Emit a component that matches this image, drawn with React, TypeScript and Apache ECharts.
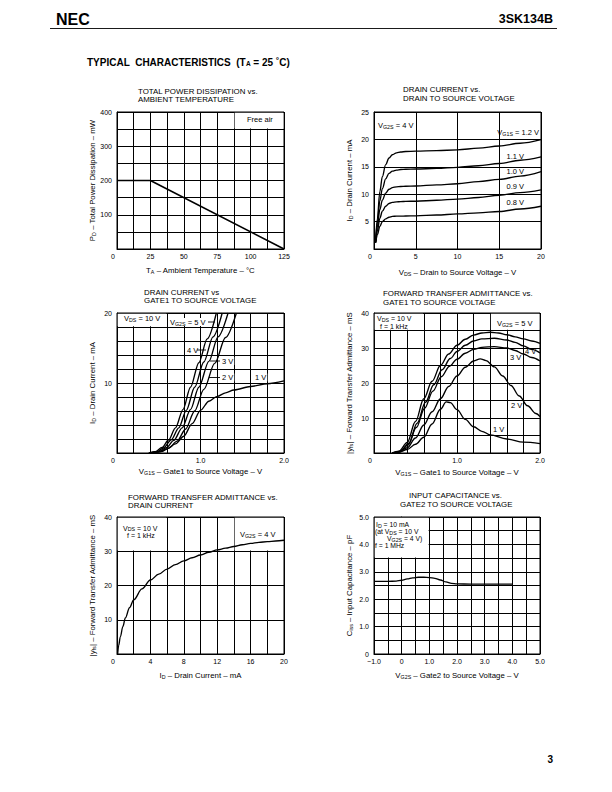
import React, { useEffect, useRef } from 'react';
import * as echarts from 'echarts';

const FONT = '"Liberation Sans", Arial, Helvetica, sans-serif';

// ---------- DATA ----------
// 1. Total power dissipation vs ambient temperature
const pdTemp = [0, 25, 125];
const pdPower = [200, 200, 0];

// 2. Drain current vs drain-to-source voltage (VG2S = 4 V)
const dsVds = [0.2, 0.4, 0.7, 1.0, 1.4, 1.8, 2.2, 2.7, 3.2, 3.8, 5, 7.5, 10, 12.5, 15, 17.5, 20];
const dsId12 = [1.5, 5.5, 10.5, 13.2, 15.4, 16.6, 17.2, 17.55, 17.7, 17.8, 17.85, 17.95, 18.1, 18.4, 18.8, 19.3, 19.95];
const dsId11 = [1.4, 4.8, 8.8, 11.0, 12.8, 13.8, 14.2, 14.4, 14.5, 14.55, 14.6, 14.7, 14.9, 15.2, 15.6, 16.2, 16.8];
const dsId10 = [1.3, 4.0, 7.2, 8.9, 10.2, 10.9, 11.2, 11.35, 11.4, 11.45, 11.5, 11.7, 11.9, 12.3, 12.7, 13.3, 14.1];
const dsId09 = [1.2, 3.3, 5.6, 6.9, 7.8, 8.3, 8.5, 8.6, 8.65, 8.7, 8.72, 8.9, 9.1, 9.4, 9.8, 10.3, 10.8];
const dsId08 = [1.1, 2.6, 4.1, 5.0, 5.5, 5.8, 5.95, 6.0, 6.0, 6.02, 6.05, 6.2, 6.4, 6.6, 6.85, 7.3, 7.8];

// 3. Drain current vs gate1-to-source voltage (VDS = 10 V)
const idG1V5: [number, number][] = [[0.38, 0], [0.46, 0.2], [0.54, 0.8], [0.62, 1.9], [0.7, 3.6], [0.79, 6.2], [0.88, 9.4], [0.98, 12.9], [1.08, 16.3], [1.19, 20]];
const idG1V4: [number, number][] = [[0.4, 0], [0.48, 0.2], [0.56, 0.75], [0.65, 1.9], [0.74, 3.6], [0.83, 6.1], [0.93, 9.4], [1.04, 13], [1.15, 16.6], [1.26, 20]];
const idG1V3: [number, number][] = [[0.42, 0], [0.5, 0.2], [0.59, 0.75], [0.68, 1.8], [0.78, 3.6], [0.88, 6.2], [0.98, 9.4], [1.1, 13.1], [1.21, 16.6], [1.33, 20]];
const idG1V2: [number, number][] = [[0.44, 0], [0.53, 0.2], [0.62, 0.7], [0.72, 1.7], [0.82, 3.4], [0.93, 6], [1.04, 9.1], [1.17, 12.8], [1.3, 16.5], [1.43, 20]];
const idG1V1: [number, number][] = [[0.42, 0], [0.5, 0.15], [0.6, 0.6], [0.7, 1.3], [0.8, 2.4], [0.9, 4.2], [1.0, 6.1], [1.1, 7.4], [1.2, 8.1], [1.3, 8.6], [1.4, 9.0], [1.6, 9.5], [1.8, 9.9], [2.0, 10.3]];

// 4. Forward transfer admittance vs gate1-to-source voltage
const yfsV5: [number, number][] = [[0.22, 0], [0.3, 0.5], [0.4, 3], [0.5, 9], [0.6, 15.5], [0.7, 20.5], [0.8, 25], [0.9, 28.3], [1.0, 30.8], [1.1, 32.5], [1.2, 33.7], [1.3, 34.3], [1.4, 34.5], [1.5, 34.3], [1.6, 33.8], [1.7, 33.2], [1.8, 32.6], [1.9, 32], [2.0, 31.3]];
const yfsV4: [number, number][] = [[0.24, 0], [0.32, 0.5], [0.42, 2.8], [0.52, 8.5], [0.62, 14.5], [0.72, 19.5], [0.82, 23.8], [0.92, 27], [1.0, 29], [1.1, 30.8], [1.2, 32], [1.3, 32.6], [1.45, 32.8], [1.6, 32.3], [1.7, 31.6], [1.8, 30.6], [1.9, 29.6], [2.0, 28.6]];
const yfsV3: [number, number][] = [[0.23, 0], [0.31, 0.4], [0.41, 2.3], [0.51, 7.3], [0.61, 12.8], [0.71, 17.7], [0.81, 21.8], [0.91, 24.8], [1.0, 26.8], [1.1, 28.5], [1.2, 29.6], [1.3, 30.2], [1.45, 30.4], [1.6, 30], [1.7, 29.3], [1.8, 28.3], [1.9, 27.3], [2.0, 26.3]];
const yfsV2: [number, number][] = [[0.22, 0], [0.3, 0.3], [0.4, 1.5], [0.5, 4.3], [0.6, 8], [0.7, 11.8], [0.8, 15.5], [0.9, 19], [1.0, 22], [1.1, 24.5], [1.2, 26.3], [1.28, 26.9], [1.35, 26.4], [1.45, 24.6], [1.55, 22], [1.65, 19.3], [1.75, 16.3], [1.85, 13.5], [1.95, 11.3], [2.0, 10.4]];
const yfsV1: [number, number][] = [[0.22, 0], [0.3, 0.2], [0.4, 1], [0.5, 2.5], [0.6, 4.5], [0.7, 8.3], [0.8, 12.5], [0.87, 14.6], [0.92, 14.4], [1.0, 12.4], [1.1, 9.6], [1.2, 7.5], [1.3, 6.2], [1.4, 5.2], [1.6, 4.0], [1.8, 3.1], [2.0, 2.7]];

// 5. Forward transfer admittance vs drain current
const ftId = [0.08, 0.2, 0.4, 0.7, 1, 1.5, 2, 3, 4, 5, 6, 7, 8, 9, 10, 11, 12, 13, 14, 15, 16, 17, 18, 19, 20];
const ftYfs = [0, 2.5, 5, 8, 10.5, 13.5, 15.8, 19, 21.6, 23.3, 24.8, 26.1, 27.2, 28.1, 28.9, 29.7, 30.4, 30.9, 31.4, 31.9, 32.3, 32.6, 32.8, 33.0, 33.2];

// 6. Input capacitance vs gate2-to-source voltage
const ciVg2 = [-1, -0.5, -0.2, 0, 0.2, 0.4, 0.6, 0.8, 1.0, 1.2, 1.4, 1.6, 1.8, 2.0, 2.5, 3, 3.5, 4.0];
const ciCiss = [2.65, 2.65, 2.66, 2.69, 2.74, 2.78, 2.8, 2.8, 2.79, 2.76, 2.7, 2.63, 2.58, 2.56, 2.55, 2.55, 2.55, 2.55];

// ---------- LAYOUT ----------
const GRIDS = [
  { left: 117, top: 112, width: 167, height: 137 },
  { left: 374, top: 112, width: 167, height: 137 },
  { left: 117, top: 313, width: 167, height: 140 },
  { left: 374, top: 313, width: 166, height: 140 },
  { left: 117, top: 517, width: 167, height: 137 },
  { left: 374, top: 517, width: 166, height: 137 },
];
const XR = [[0, 125, 12.5], [0, 20, 5], [0, 2, 0.2], [0, 2, 0.2], [0, 20, 2], [-1, 5, 0.5]];
const YR = [[0, 400, 50], [0, 25, 5], [0, 20, 2], [0, 40, 5], [0, 40, 10], [0, 5, 0.5]];
const XNAME_GAP = [17.5, 19, 14, 15.5, 17.5, 17.5];

const mult = (v: number, m: number) => Math.abs(v / m - Math.round(v / m)) < 1e-6;
const fmtDec = (v: number) => (Math.abs(v) < 1e-9 ? '0' : (v < 0 ? '\u2212' : '') + Math.abs(v).toFixed(1));

const xFmt = [
  (v: number) => (Math.abs(v) < 1e-9 ? '{z|0}' : mult(v, 25) ? String(v) : ''),
  (v: number) => (Math.abs(v) < 1e-9 ? '{z|0}' : String(v)),
  (v: number) => (Math.abs(v) < 1e-9 ? '{z|0}' : mult(v, 1) ? fmtDec(v) : ''),
  (v: number) => (Math.abs(v) < 1e-9 ? '{z|0}' : mult(v, 1) ? fmtDec(v) : ''),
  (v: number) => (Math.abs(v) < 1e-9 ? '{z|0}' : mult(v, 4) ? String(v) : ''),
  (v: number) => (mult(v, 1) ? fmtDec(v) : ''),
];
const yFmt = [
  (v: number) => (v !== 0 && mult(v, 100) ? String(v) : ''),
  (v: number) => (v !== 0 ? String(v) : ''),
  (v: number) => (v !== 0 && mult(v, 10) ? String(v) : ''),
  (v: number) => (v !== 0 && mult(v, 10) ? String(v) : ''),
  (v: number) => (v !== 0 ? String(v) : ''),
  (v: number) => (mult(v, 1) ? fmtDec(v) : ''),
];

const XNAMES = [
  'T{s|A} \u2013 Ambient Temperature \u2013 \u00b0C',
  'V{s|DS} \u2013 Drain to Source Voltage \u2013 V',
  'V{s|G1S} \u2013 Gate1 to Source Voltage \u2013 V',
  'V{s|G1S} \u2013 Gate1 to Source Voltage \u2013 V',
  'I{s|D} \u2013 Drain Current \u2013 mA',
  'V{s|G2S} \u2013 Gate2 to Source Voltage \u2013 V',
];
const YNAMES = [
  'P{s|D} \u2013 Total Power Dissipation \u2013 mW',
  'I{s|D} \u2013 Drain Current \u2013 mA',
  'I{s|D} \u2013 Drain Current \u2013 mA',
  '|y{s|fs}| \u2013 Forward Transfer Admittance \u2013 mS',
  '|y{s|fs}| \u2013 Forward Transfer Admittance \u2013 mS',
  'C{s|iss} \u2013 Input Capacitance \u2013 pF',
];
const TITLES = [
  ['TOTAL POWER DISSIPATION vs.', 'AMBIENT TEMPERATURE'],
  ['DRAIN CURRENT vs.', 'DRAIN TO SOURCE VOLTAGE'],
  ['DRAIN CURRENT vs', 'GATE1 TO SOURCE VOLTAGE'],
  ['FORWARD TRANSFER ADMITTANCE vs.', 'GATE1 TO SOURCE VOLTAGE'],
  ['FORWARD TRANSFER ADMITTANCE vs.', 'DRAIN CURRENT'],
  ['INPUT CAPACITANCE vs.', 'GATE2 TO SOURCE VOLTAGE'],
];
const TITLE_POS = [[138, 91, 138, 99.5], [403, 89, 403, 98], [144, 292, 144, 300.5], [383, 293, 383, 302], [128, 497, 128, 505.5], [409, 495.5, 400, 504]];

const px = (i: number, x: number) => GRIDS[i].left + ((x - XR[i][0]) / (XR[i][1] - XR[i][0])) * GRIDS[i].width;
const py = (i: number, y: number) => GRIDS[i].top + GRIDS[i].height - ((y - YR[i][0]) / (YR[i][1] - YR[i][0])) * GRIDS[i].height;

const SUB_AX = { fontSize: 5.3, fontFamily: FONT, color: '#000', lineHeight: 3, verticalAlign: 'bottom' };

function txt(x: number, y: number, text: string, o: any = {}) {
  return {
    type: 'text',
    x,
    y,
    z: 10,
    style: {
      text,
      fontSize: o.fs || 7.5,
      fontFamily: FONT,
      fontWeight: o.bold ? 'bold' : 'normal',
      fill: '#000',
      align: o.align || 'left',
      verticalAlign: 'middle',
      backgroundColor: o.bg,
      padding: o.pad,
      rich: {
        s: {
          fontSize: o.subFs || 5.3,
          fontFamily: FONT,
          fill: '#000',
          fontWeight: o.bold ? 'bold' : 'normal',
          lineHeight: 3,
          verticalAlign: 'bottom',
        },
      },
    },
  };
}
function whiteBox(i: number, x0: number, x1: number, y0: number, y1: number) {
  const l = px(i, x0) + 0.7, r = px(i, x1) - 0.7, t = py(i, y1) + 0.7, b = py(i, y0) - 0.7;
  return { type: 'rect', z: 1, shape: { x: l, y: t, width: r - l, height: b - t }, style: { fill: '#fff' } };
}
function seg(x1: number, y1: number, x2: number, y2: number) {
  return { type: 'line', z: 10, shape: { x1, y1, x2, y2 }, style: { stroke: '#000', lineWidth: 0.9 } };
}

function buildOption() {
  const grid = GRIDS.map((g) => ({ ...g, show: true, borderColor: '#000', borderWidth: 1, backgroundColor: 'transparent' }));
  const xAxis = GRIDS.map((_, i) => ({
    type: 'value',
    gridIndex: i,
    min: XR[i][0],
    max: XR[i][1],
    interval: XR[i][2],
    axisLine: { show: true, lineStyle: { color: '#000', width: 1 } },
    axisTick: { show: false },
    splitLine: { show: true, lineStyle: { color: '#000', width: 1 } },
    axisLabel: {
      margin: 4,
      fontSize: 7,
      fontFamily: FONT,
      color: '#000',
      formatter: xFmt[i],
      showMinLabel: true,
      showMaxLabel: true,
      hideOverlap: false,
      rich: { z: { fontSize: 7, fontFamily: FONT, color: '#000', padding: [0, 8, 0, 0] } },
    },
    name: XNAMES[i],
    nameLocation: 'middle',
    nameGap: XNAME_GAP[i],
    nameTextStyle: { fontSize: 7.8, fontFamily: FONT, color: '#000', rich: { s: SUB_AX } },
  }));
  const yAxis = GRIDS.map((_, i) => ({
    type: 'value',
    gridIndex: i,
    min: YR[i][0],
    max: YR[i][1],
    interval: YR[i][2],
    axisLine: { show: true, lineStyle: { color: '#000', width: 1 } },
    axisTick: { show: false },
    splitLine: { show: true, lineStyle: { color: '#000', width: 1 } },
    axisLabel: { margin: 5, fontSize: 7, fontFamily: FONT, color: '#000', formatter: yFmt[i], showMinLabel: true, showMaxLabel: true, hideOverlap: false },
    name: YNAMES[i],
    nameLocation: 'middle',
    nameGap: 21,
    nameRotate: 90,
    nameTextStyle: { fontSize: 7.8, fontFamily: FONT, color: '#000', rich: { s: SUB_AX } },
  }));

  const line = (i: number, data: number[][], smooth: number | boolean = 0.35, mono: any = 'x') => ({
    type: 'line',
    xAxisIndex: i,
    yAxisIndex: i,
    data,
    symbol: 'none',
    showSymbol: false,
    smooth,
    smoothMonotone: mono,
    lineStyle: { color: '#000', width: 1.35 },
    z: 3,
  });
  const zip = (xs: number[], ys: number[]) => xs.map((x, k) => [x, ys[k]]);

  const series = [
    { ...line(0, zip(pdTemp, pdPower), false), lineStyle: { color: '#000', width: 1.6 } },
    line(1, zip(dsVds, dsId12)),
    line(1, zip(dsVds, dsId11)),
    line(1, zip(dsVds, dsId10)),
    line(1, zip(dsVds, dsId09)),
    line(1, zip(dsVds, dsId08)),
    line(2, idG1V5, 0.3, undefined),
    line(2, idG1V4, 0.3, undefined),
    line(2, idG1V3, 0.3, undefined),
    line(2, idG1V2, 0.3, undefined),
    line(2, idG1V1, 0.3, undefined),
    line(3, yfsV5),
    line(3, yfsV4),
    line(3, yfsV3),
    line(3, yfsV2),
    line(3, yfsV1),
    line(4, zip(ftId, ftYfs)),
    line(5, zip(ciVg2, ciCiss)),
  ];

  const titles: any[] = [];
  TITLES.forEach((t, i) => {
    const p = TITLE_POS[i];
    titles.push(txt(p[0], p[1], t[0], { fs: 7.9 }));
    titles.push(txt(p[2], p[3], t[1], { fs: 7.9 }));
  });

  const graphic = [
    // header
    txt(56, 19, 'NEC', { fs: 16, bold: true }),
    txt(553, 19, '3SK134B', { fs: 12.5, bold: true, align: 'right' }),
    seg(50, 28.5, 557, 28.5),
    txt(87, 62, 'TYPICAL  CHARACTERISTICS  (T{s|A} = 25 \u02daC)', { fs: 10, bold: true, subFs: 6.5 }),
    txt(553, 759, '3', { fs: 10, bold: true, align: 'right' }),
    ...titles,
    // chart 1
    whiteBox(0, 87.5, 125, 350, 400),
    txt(247, 119.5, 'Free air'),
    // chart 2
    txt(378, 125, 'V{s|G2S} = 4 V'),
    txt(539, 132, 'V{s|G1S} = 1.2 V', { align: 'right' }),
    txt(524, 156.5, '1.1 V', { align: 'right' }),
    txt(524, 171.5, '1.0 V', { align: 'right' }),
    txt(524, 186, '0.9 V', { align: 'right' }),
    txt(524, 202, '0.8 V', { align: 'right' }),
    // chart 3
    whiteBox(2, 0, 0.6, 18, 20),
    txt(124, 318.5, 'V{s|DS} = 10 V'),
    txt(169, 322, 'V{s|G2S} = 5 V', { bg: '#fff', pad: [0, 1, 0, 1] }),
    seg(208, 322, 215, 322),
    txt(186, 350, '4 V', { bg: '#fff', pad: [0, 1, 0, 1] }),
    seg(197, 350, 206, 350),
    txt(221, 361, '3 V', { bg: '#fff', pad: [0, 1, 0, 1] }),
    seg(210, 361, 220, 361),
    txt(221, 377.5, '2 V', { bg: '#fff', pad: [0, 1, 0, 1] }),
    seg(209, 377.5, 220, 377.5),
    txt(254, 377.5, '1 V', { bg: '#fff', pad: [0, 1, 0, 1] }),
    // chart 4
    whiteBox(3, 0, 0.6, 35, 40),
    whiteBox(3, 1.4, 2.0, 35, 40),
    txt(377, 318.5, 'V{s|DS} = 10 V', { fs: 7 }),
    txt(380, 326, 'f = 1 kHz', { fs: 7 }),
    txt(497, 323.5, 'V{s|G2S} = 5 V'),
    txt(525, 351, '4 V'),
    txt(510, 357, '3 V'),
    txt(511, 405, '2 V'),
    txt(493, 429, '1 V'),
    // chart 5
    whiteBox(4, 0, 6, 30, 40),
    whiteBox(4, 14, 20, 30, 40),
    txt(123, 528, 'V{s|DS} = 10 V', { fs: 7 }),
    txt(127, 535.5, 'f = 1 kHz', { fs: 7 }),
    txt(240, 534, 'V{s|G2S} = 4 V'),
    // chart 6
    whiteBox(5, -1, 1, 3.5, 5),
    txt(376, 524.5, 'I{s|D} = 10 mA', { fs: 6.8 }),
    txt(375, 531.5, '(at V{s|DS} = 10 V', { fs: 6.8 }),
    txt(387, 538.5, 'V{s|G2S} = 4 V)', { fs: 6.8 }),
    txt(375, 545.5, 'f = 1 MHz', { fs: 6.8 }),
  ];

  return {
    animation: false,
    backgroundColor: '#fff',
    textStyle: { fontFamily: FONT },
    grid,
    xAxis,
    yAxis,
    series,
    graphic,
  };
}

export default function App() {
  const ref = useRef<HTMLDivElement>(null);
  useEffect(() => {
    const chart = echarts.init(ref.current as HTMLDivElement, null, { renderer: 'svg' });
    chart.setOption(buildOption() as any);
    return () => chart.dispose();
  }, []);
  return <div ref={ref} style={{ position: 'absolute', left: 0, top: 0, width: 612, height: 792, background: '#fff' }} />;
}
